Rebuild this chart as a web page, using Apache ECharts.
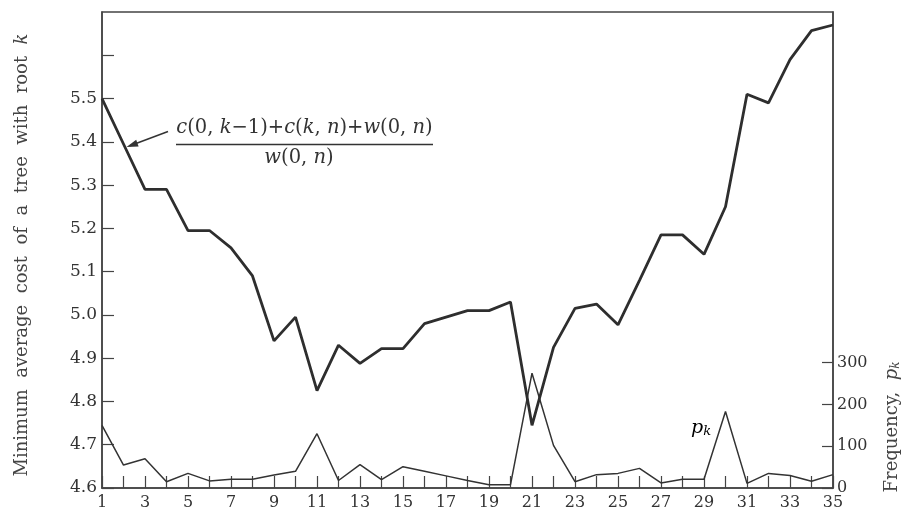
<!DOCTYPE html>
<html><head><meta charset="utf-8">
<script src="https://cdn.jsdelivr.net/npm/echarts@6/dist/echarts.min.js"></script>
<style>html,body{margin:0;padding:0;background:#fff}#c{width:904px;height:525px}</style>
</head><body><div id="c"></div>
<script>
const kValues = [1,2,3,4,5,6,7,8,9,10,11,12,13,14,15,16,17,18,19,20,21,22,23,24,25,26,27,28,29,30,31,32,33,34,35];
const avgCost = [5.50,5.395,5.29,5.29,5.195,5.195,5.155,5.09,4.94,4.995,4.825,4.93,4.888,4.922,4.922,4.98,4.995,5.01,5.01,5.03,4.745,4.925,5.015,5.025,4.977,5.08,5.185,5.185,5.14,5.25,5.51,5.49,5.59,5.657,5.67];
const frequency = [150,55,70,15,35,17,21,21,31,40,130,18,56,20,51,40,29,18,8,8,275,102,15,32,35,47,12,21,21,183,11,35,30,16,32];
const xTickLabels = [1,3,5,7,9,11,13,15,17,19,21,23,25,27,29,31,33,35];
const costTickLabels = [4.6,4.7,4.8,4.9,5.0,5.1,5.2,5.3,5.4,5.5];
const costTicks = [4.6,4.7,4.8,4.9,5.0,5.1,5.2,5.3,5.4,5.5,5.6];
const freqTickLabels = [0,100,200,300];

const INK = '#333';
const FONT = 'DejaVu Serif';
const chart = echarts.init(document.getElementById('c'), null, {renderer: 'canvas'});
const pairs = (ys) => kValues.map((k, i) => [k, ys[i]]);
const ital = {fontStyle: 'italic', fontFamily: FONT, fontSize: 19.5, color: INK};

chart.setOption({
  animation: false,
  backgroundColor: '#fff',
  grid: {left: 102, right: 71, top: 12, bottom: 37, show: true, borderColor: '#444', borderWidth: 1.5, outerBoundsMode: 'none', containLabel: false},
  xAxis: {
    type: 'value', min: 1, max: 35, interval: 1,
    axisLine: {lineStyle: {color: '#444', width: 1.5}},
    axisTick: {inside: true, length: 12, lineStyle: {color: '#444', width: 1.2}},
    axisLabel: {customValues: xTickLabels, margin: 7, fontFamily: FONT, fontSize: 16, color: INK},
    splitLine: {show: false}
  },
  yAxis: [{
    type: 'value', min: 4.6, max: 5.7, interval: 0.1, position: 'left',
    axisLine: {show: true, lineStyle: {color: '#444', width: 1.5}},
    axisTick: {show: true, inside: true, length: 12, customValues: costTicks, lineStyle: {color: '#444', width: 1.2}},
    axisLabel: {customValues: costTickLabels, margin: 5, fontFamily: FONT, fontSize: 17, color: INK, formatter: v => v.toFixed(1)},
    splitLine: {show: false}
  }, {
    type: 'value', min: 0, max: 1140, interval: 100, position: 'right',
    axisLine: {show: true, lineStyle: {color: '#444', width: 1.5}},
    axisTick: {show: true, inside: true, length: 11, customValues: freqTickLabels, lineStyle: {color: '#444', width: 1.2}},
    axisLabel: {customValues: freqTickLabels, margin: 4, fontFamily: FONT, fontSize: 16, color: INK},
    splitLine: {show: false}
  }],
  series: [{
    type: 'line', yAxisIndex: 0, data: pairs(avgCost), showSymbol: false, symbol: 'none',
    lineStyle: {color: '#2e2e2e', width: 2.8}, z: 3
  }, {
    type: 'line', yAxisIndex: 1, data: pairs(frequency), showSymbol: false, symbol: 'none',
    lineStyle: {color: '#333', width: 1.5}, z: 2
  }],
  graphic: [
    {type: 'text', x: 22, y: 255, rotation: Math.PI / 2, style: {
      text: 'Minimum  average  cost  of  a  tree  with  root  {i|k}',
      align: 'center', verticalAlign: 'middle', fontFamily: FONT, fontSize: 18, fill: '#444',
      rich: {i: {fontStyle: 'italic', fontFamily: FONT, fontSize: 18, color: '#444'}}
    }},
    {type: 'text', x: 892, y: 427, rotation: Math.PI / 2, style: {
      text: 'Frequency,  {i|p}{s|k}',
      align: 'center', verticalAlign: 'middle', fontFamily: FONT, fontSize: 18, fill: '#444',
      rich: {i: {fontStyle: 'italic', fontFamily: FONT, fontSize: 18, color: '#444'},
             s: {fontStyle: 'italic', fontFamily: FONT, fontSize: 12, color: '#444', padding: [7, 0, 0, 0]}}
    }},
    {type: 'text', x: 304.5, y: 128, style: {
      text: '{i|c}(0, {i|k}−1)+{i|c}({i|k}, {i|n})+{i|w}(0, {i|n})',
      align: 'center', verticalAlign: 'middle', fontFamily: FONT, fontSize: 19.5, fill: INK, rich: {i: ital}
    }},
    {type: 'line', shape: {x1: 176, y1: 144.5, x2: 433, y2: 144.5}, style: {stroke: INK, lineWidth: 1.5}},
    {type: 'text', x: 299, y: 158, style: {
      text: '{i|w}(0, {i|n})',
      align: 'center', verticalAlign: 'middle', fontFamily: FONT, fontSize: 19.5, fill: INK, rich: {i: ital}
    }},
    {type: 'line', shape: {x1: 168, y1: 131.5, x2: 130, y2: 145.8}, style: {stroke: INK, lineWidth: 1.5}},
    {type: 'polygon', shape: {points: [[126.5, 147], [136.2, 139.8], [138.6, 146.4]]}, style: {fill: INK}},
    {type: 'text', x: 701, y: 428, style: {
      text: '{i|p}{s|k}', align: 'center', verticalAlign: 'middle',
      rich: {i: {fontStyle: 'italic', fontFamily: FONT, fontSize: 19, color: INK},
             s: {fontStyle: 'italic', fontFamily: FONT, fontSize: 13, color: INK, padding: [8, 0, 0, 0]}}
    }}
  ]
});
</script></body></html>
